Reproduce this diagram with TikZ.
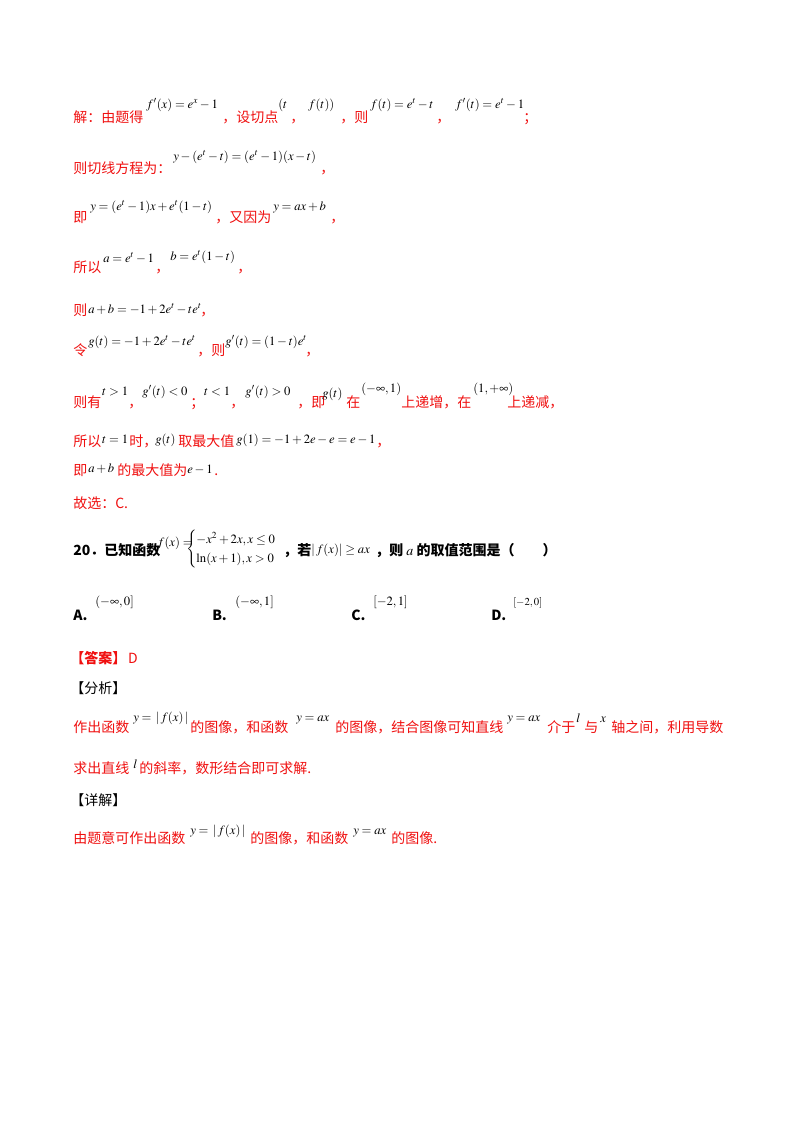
\documentclass[tikz,border=0pt]{standalone}
\usepackage{amsmath,amssymb}
\usepackage{mathptmx}
\usepackage{fontspec}
\newfontfamily\cjk{Noto Sans CJK SC}
\definecolor{rd}{HTML}{F01010}
\tikzset{t/.style={anchor=base west,inner sep=0pt,font=\cjk\fontsize{10.5}{12}\selectfont},
 r/.style={t,text=rd},
 m/.style={anchor=base west,inner sep=0pt,font=\fontsize{9.5}{12}\selectfont},
 b/.style={t,font=\cjk\bfseries\fontsize{10.5}{12}\selectfont}}
\newcommand\R[3]{\node[r] at (#1,#2) {#3};}
\newcommand\M[3]{\node[m] at (#1,#2) {$#3$};}
\begin{document}
\begin{tikzpicture}[x=0.75pt,y=-0.75pt]
\useasboundingbox[fill=white] (0,0) rectangle (800,1132);
\R{73}{122}{解：由题得}\M{146}{108}{f'(x)=e^x-1}\R{222}{122}{，设切点}\M{278}{108}{(t}\R{290}{122}{，}\M{308}{108}{f(t))}\R{340}{122}{，则}\M{370}{108}{f(t)=e^t-t}\R{436}{122}{，}\M{455}{108}{f'(t)=e^t-1}\R{523}{122}{；}
\R{73}{173}{则切线方程为：}\M{173}{160}{y-(e^t-t)=(e^t-1)(x-t)}\R{320}{173}{，}
\R{73}{222}{即}\M{90}{210}{y=(e^t-1)x+e^t(1-t)}\R{215}{222}{，又因为}\M{273}{210}{y=ax+b}\R{330}{222}{，}
\R{73}{272}{所以}\M{103}{262}{a=e^t-1}\R{155}{272}{，}\M{170}{260}{b=e^t(1-t)}\R{237}{272}{，}
\R{73}{315}{则}\M{88}{313}{a+b=-1+2e^t-te^t}\R{200}{315}{，}
\R{73}{355}{令}\M{88}{345}{g(t)=-1+2e^t-te^t}\R{197}{355}{，则}\M{225}{345}{g'(t)=(1-t)e^t}\R{305}{355}{，}
\R{73}{407}{则有}\M{102}{395}{t>1}\R{128}{407}{，}\M{142}{395}{g'(t)<0}\R{190}{407}{；}\M{204}{395}{t<1}\R{230}{407}{，}\M{245}{395}{g'(t)>0}\R{297}{407}{，即}\M{322}{397}{g(t)}\R{346}{407}{在}\M{361}{392}{(-\infty,1)}\R{401}{407}{上递增，在}\M{473}{392}{(1,+\infty)}\R{507}{407}{上递减，}
\R{73}{446}{所以}\M{102}{443}{t=1}\R{129}{446}{时，}\M{155}{443}{g(t)}\R{178}{446}{取最大值}\M{236}{443}{g(1)=-1+2e-e=e-1}\R{376}{446}{，}
\R{73}{475}{即}\M{88}{472}{a+b}\R{117}{475}{的最大值为}\M{187}{473}{e-1}\R{214}{475}{.}
\R{73}{508}{故选：C.}
\node[b] at (73,555) {20．已知函数};
\M{157}{546}{f(x)=}
\node[m,anchor=west] at (186,549) {$\begin{cases}-x^2+2x, x\le 0\\ \ln(x+1), x>0\end{cases}$};
\node[b] at (283,555) {，若};
\M{311}{553}{|\,f(x)|\ge ax}
\node[b] at (375,555) {，则 $\boldsymbol{a}$ 的取值范围是（\hspace{2em}）};
\node[b] at (73,620) {A.};\M{95}{605}{(-\infty,0]}
\node[b] at (212,620) {B.};\M{235}{605}{(-\infty,1]}
\node[b] at (351,620) {C.};\M{373}{605}{[-2,1]}
\node[b] at (491,620) {D.};\node[m,font=\fontsize{8}{10}\selectfont] at (513,605) {$[-2,0]$};
\node[b,text=rd] (ans) at (70,663) {【答案】};\node[r] at ([xshift=1pt]ans.base east) {D};
\node[t] at (70,693) {【分析】};
\R{73}{732}{作出函数}\M{133}{721}{y=\,|\,f(x)\,|}\R{190}{732}{的图像，和函数}\M{296}{721}{y=ax}\R{335}{732}{的图像，结合图像可知直线}\M{507}{721}{y=ax}\R{547}{732}{介于}\M{576}{722}{l}\R{584}{732}{与}\M{600}{722}{x}\R{611}{732}{轴之间，利用导数}
\R{73}{773}{求出直线}\M{133}{768}{l}\R{139}{773}{的斜率，数形结合即可求解.}
\node[t] at (70,805) {【详解】};
\R{73}{843}{由题意可作出函数}\M{190}{834}{y=\,|\,f(x)\,|}\R{250}{843}{的图像，和函数}\M{353}{834}{y=ax}\R{391}{843}{的图像.}
\end{tikzpicture}
\end{document}
